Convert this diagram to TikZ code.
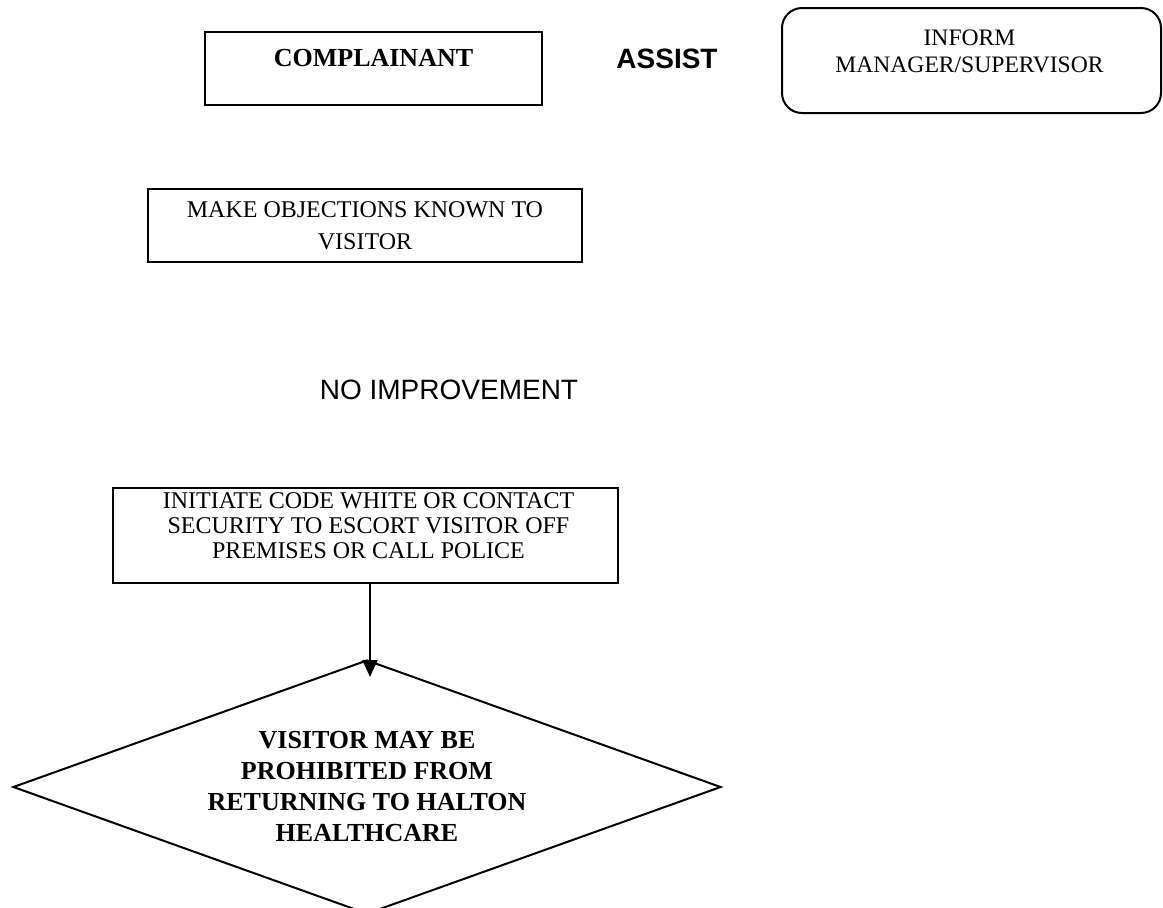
\documentclass[tikz,border=0pt]{standalone}
\usepackage{fontspec}
\setmainfont{Liberation Serif}
\newfontfamily\arialfont{Liberation Sans}
\usetikzlibrary{shapes.geometric,arrows.meta}
\tikzset{
  boxnode/.style={draw=black, line width=1pt, rectangle, inner sep=0pt},
  roundnode/.style={boxnode, rounded corners=10pt},
  txt/.style={align=center, inner sep=0pt},
  dianode/.style={draw=black, line width=1pt, diamond, inner sep=0pt, shape aspect=2.79},
  flow/.style={line width=1pt, -{Triangle[length=8.5pt,width=7.5pt]}}
}
\begin{document}
\begin{tikzpicture}[x=0.5pt, y=-0.5pt]
\useasboundingbox (0,0) rectangle (1163,907);
\clip (0,0) rectangle (1163,907);

% COMPLAINANT box
\node[boxnode, minimum width=168.5pt, minimum height=36.5pt,
  label={[txt, yshift=5.25pt, font=\fontsize{13}{15}\selectfont\bfseries]center:COMPLAINANT}]
  (comp) at (373.5,68.5) {};

% ASSIST
\node[txt, font=\arialfont\fontsize{14}{16}\selectfont\bfseries] (assist) at (667,59) {ASSIST};

% INFORM MANAGER/SUPERVISOR
\node[roundnode, minimum width=189.5pt, minimum height=52.5pt,
  label={[txt, xshift=-1pt, yshift=4.5pt, font=\fontsize{11.8}{13.5}\selectfont]center:INFORM\\MANAGER/SUPERVISOR}]
  (inform) at (971.5,60.5) {};

% MAKE OBJECTIONS
\node[boxnode, minimum width=217pt, minimum height=36.5pt, align=center,
  font=\fontsize{12}{16}\selectfont]
  (make) at (365,225.5) {MAKE OBJECTIONS KNOWN TO\\VISITOR};

% NO IMPROVEMENT
\node[txt, font=\arialfont\fontsize{14}{16}\selectfont] (noimp) at (449,390) {NO IMPROVEMENT};

% INITIATE box
\node[boxnode, minimum width=252.5pt, minimum height=47.5pt,
  label={[txt, xshift=1.5pt, yshift=5pt, font=\fontsize{12}{12.6}\selectfont]center:INITIATE CODE WHITE OR CONTACT\\SECURITY TO ESCORT VISITOR OFF\\PREMISES OR CALL POLICE}]
  (init) at (365.5,535.5) {};

% Diamond
\node[dianode, minimum width=354pt, minimum height=127pt, align=center,
  font=\fontsize{13}{15.5}\selectfont\bfseries]
  (dia) at (367,787) {VISITOR MAY BE\\PROHIBITED FROM\\RETURNING TO HALTON\\HEALTHCARE};

\coordinate (tip) at (370,677);
\draw[flow] (init.south -| tip) -- (tip);
\end{tikzpicture}
\end{document}
